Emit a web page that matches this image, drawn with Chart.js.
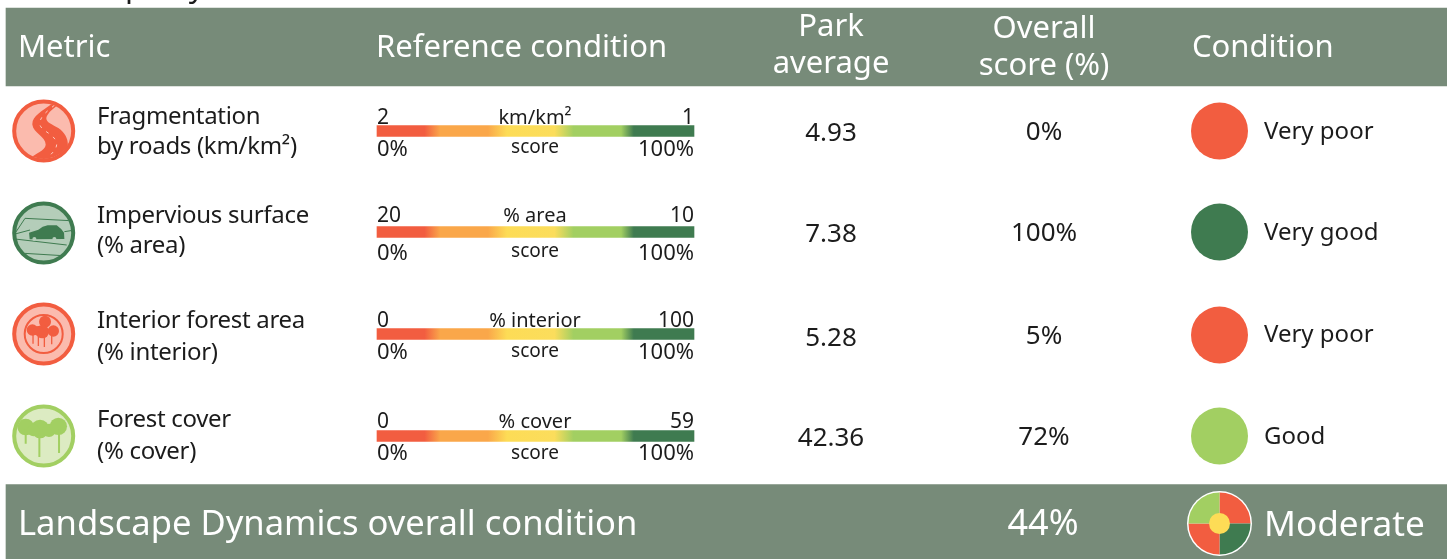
<!DOCTYPE html>
<html>
<head>
<meta charset="utf-8">
<title>Landscape Dynamics</title>
<script src="https://cdn.jsdelivr.net/npm/chart.js@4"></script>
<style>
    body { margin: 0; background: #fff; overflow: hidden; }
    #wrap { position: relative; width: 1447px; height: 559px; }
    #table_chart { position: absolute; left: 0; top: 0; }
    #overall_pie { position: absolute; left: 1184px; top: 488px; }
</style>
</head>
<body>
<div id="wrap">
    <canvas id="table_chart" width="1447" height="559"></canvas>
    <canvas id="overall_pie" width="71" height="71"></canvas>
</div>
<script>
// values
const metrics = [["Fragmentation", "by roads (km/km²)"], ["Impervious surface", "(% area)"], ["Interior forest area", "(% interior)"], ["Forest cover", "(% cover)"]]
const refLow = ["2", "20", "0", "0"]
const refHigh = ["1", "10", "100", "59"]
const refUnits = ["km/km²", "% area", "% interior", "% cover"]
const parkAverage = ["4.93", "7.38", "5.28", "42.36"]
const overallScore = [0, 100, 5, 72]
const conditions = ["Very poor", "Very good", "Very poor", "Good"]
const overallValue = 44
const overallCondition = "Moderate"
const pieSlices = [25, 25, 25, 25]

// layout, the axes run in page pixels so this is all plain numbers
const BAND = "#778b79"
const INK = "#1c1c1c"
const FONT = '"Noto Sans"'
const barY = [131, 232, 334, 436]
const iconY = [131, 233, 334, 436]
const circleY = [131, 232, 335, 436]
const nameBase = [124, 223, 328, 427]
const nameGap = [30, 30, 32, 32]
const topBase = [124, 222, 327, 428]
const pctBase = [156, 260, 359, 460]
const scoreBase = [153, 257, 357, 459]
const parkBase = [141, 241.5, 346, 446]
const overallBase = [140, 241, 344, 445]
const condBase = [139, 240, 342, 444]
const headBand = { y: 47, h: 78 }
const footBand = { y: 522, h: 75 }
const scoreBar = { from: 377, to: 694, h: 11 }
const colors = { "Very poor": "#f25d40", "Very good": "#3f7b50", "Good": "#a2cf62", "Moderate": "#fddc56" }

function scoreGradient(context) {
    let chart = context.chart
    let x = chart.scales.x
    // scale is not laid out yet on the first resolve
    if (!x || !isFinite(x.getPixelForValue(scoreBar.from))) return "#fddc56"
    let g = chart.ctx.createLinearGradient(x.getPixelForValue(scoreBar.from), 0, x.getPixelForValue(scoreBar.to), 0)
    g.addColorStop(0, "#f25d40")
    g.addColorStop(0.15, "#f25d40")
    g.addColorStop(0.2, "#faa74a")
    g.addColorStop(0.35, "#faa74a")
    g.addColorStop(0.41, "#fddc56")
    g.addColorStop(0.56, "#fbdd5c")
    g.addColorStop(0.62, "#a2cf62")
    g.addColorStop(0.77, "#a2cf62")
    g.addColorStop(0.81, "#3f7b50")
    g.addColorStop(1, "#3f7b50")
    return g
}

function put(ctx, str, x, y, size, align, color, spacing) {
    ctx.font = size + "px " + FONT
    ctx.letterSpacing = (spacing || 0) + "px"
    ctx.textAlign = align || "left"
    ctx.fillStyle = color || INK
    ctx.textBaseline = "alphabetic"
    ctx.fillText(str, x, y)
    ctx.letterSpacing = "0px"
}

// the icons are drawn at 3x in a box around their centre
function iconBase(ctx, cx, cy, ring, fill) {
    ctx.save()
    ctx.translate(cx, cy)
    ctx.beginPath()
    ctx.arc(0, 0, 29.5, 0, Math.PI * 2)
    ctx.fillStyle = fill
    ctx.fill()
    ctx.lineWidth = 4
    ctx.strokeStyle = ring
    ctx.stroke()
    ctx.save()
    ctx.beginPath()
    ctx.arc(0, 0, 28, 0, Math.PI * 2)
    ctx.clip()
    ctx.scale(1 / 3, 1 / 3)
    ctx.translate(-116, -109)
    ctx.fillStyle = ring
    ctx.strokeStyle = ring
}

function iconEnd(ctx) {
    ctx.restore()
    ctx.restore()
}

function roadIcon(ctx, cx, cy) {
    iconBase(ctx, cx, cy, "#f25d40", "#fbbbae")
    ctx.beginPath()
    ctx.moveTo(140, 28)
    ctx.bezierCurveTo(110, 50, 80, 65, 82, 90)
    ctx.bezierCurveTo(85, 115, 122, 125, 122, 150)
    ctx.bezierCurveTo(120, 170, 90, 175, 70, 195)
    ctx.lineTo(100, 215)
    ctx.lineTo(175, 190)
    ctx.bezierCurveTo(195, 160, 195, 125, 160, 100)
    ctx.bezierCurveTo(135, 85, 115, 80, 128, 60)
    ctx.bezierCurveTo(135, 48, 150, 40, 160, 28)
    ctx.closePath()
    ctx.fill()
    ctx.beginPath()
    ctx.moveTo(148, 32)
    ctx.bezierCurveTo(125, 50, 100, 70, 105, 92)
    ctx.bezierCurveTo(112, 110, 150, 120, 155, 145)
    ctx.bezierCurveTo(156, 165, 140, 175, 128, 190)
    ctx.setLineDash([9, 17])
    ctx.strokeStyle = "#fde3dc"
    ctx.lineWidth = 2.5
    ctx.stroke()
    iconEnd(ctx)
}

function carIcon(ctx, cx, cy) {
    iconBase(ctx, cx, cy, "#3f7b50", "#b4cdb9")
    ctx.lineWidth = 3
    ctx.beginPath()
    ctx.moveTo(30, 110)
    ctx.lineTo(60, 65)
    ctx.lineTo(195, 72)
    ctx.moveTo(30, 112)
    ctx.lineTo(75, 100)
    ctx.moveTo(178, 105)
    ctx.lineTo(210, 100)
    ctx.moveTo(30, 127)
    ctx.lineTo(185, 145)
    ctx.moveTo(58, 170)
    ctx.lineTo(190, 178)
    ctx.stroke()
    ctx.beginPath()
    ctx.moveTo(74, 128)
    ctx.lineTo(72, 108)
    ctx.lineTo(100, 99)
    ctx.quadraticCurveTo(112, 88, 128, 86)
    ctx.lineTo(155, 86)
    ctx.quadraticCurveTo(168, 95, 177, 108)
    ctx.lineTo(178, 127)
    ctx.closePath()
    ctx.fill()
    ctx.fillStyle = "#b4cdb9"
    ctx.beginPath()
    ctx.arc(88, 127, 6, 0, Math.PI * 2)
    ctx.arc(148, 127, 6, 0, Math.PI * 2)
    ctx.fill()
    iconEnd(ctx)
}

function tree(ctx, blobs, trunks, width) {
    blobs.forEach((b) => {
        ctx.beginPath()
        ctx.arc(b[0], b[1], b[2], 0, Math.PI * 2)
        ctx.fill()
    })
    ctx.lineWidth = width
    trunks.forEach((t) => {
        ctx.beginPath()
        ctx.moveTo(t[0], t[1])
        ctx.lineTo(t[0], t[2])
        ctx.stroke()
    })
}

function interiorIcon(ctx, cx, cy) {
    iconBase(ctx, cx, cy, "#f25d40", "#fbbbae")
    ctx.lineWidth = 6
    ctx.beginPath()
    ctx.arc(116, 109, 57, 0, Math.PI * 2)
    ctx.stroke()
    tree(ctx, [[120, 72, 18], [82, 97, 17], [112, 102, 20], [145, 100, 17], [100, 100, 15]],
        [[84, 100, 138], [100, 110, 145], [140, 100, 140], [118, 110, 148]], 4)
    iconEnd(ctx)
}

function forestIcon(ctx, cx, cy) {
    iconBase(ctx, cx, cy, "#a2cf62", "#dcebc2")
    tree(ctx, [[62, 82, 25], [105, 88, 28], [85, 92, 18], [132, 92, 20], [160, 80, 26]],
        [[62, 90, 132], [103, 100, 172], [162, 90, 160]], 6)
    iconEnd(ctx)
}

const drawIcons = [roadIcon, carIcon, interiorIcon, forestIcon]

const tableText = {
    id: "tableText",
    afterDraw(chart) {
        let ctx = chart.ctx
        let px = (v) => chart.scales.x.getPixelForValue(v)
        let py = (v) => chart.scales.y.getPixelForValue(v)
        ctx.save()

        // title of the section, only the descenders are left on the page
        put(ctx, "Landscape dynamics", px(6), py(-3), 31)

        // header band
        put(ctx, "Metric", px(18), py(57), 31, "left", "#fff")
        put(ctx, "Reference condition", px(376), py(57), 31, "left", "#fff")
        put(ctx, "Park", px(831), py(36), 31, "center", "#fff")
        put(ctx, "average", px(831), py(73), 31, "center", "#fff")
        put(ctx, "Overall", px(1044), py(38), 31, "center", "#fff")
        put(ctx, "score (%)", px(1044), py(75), 31, "center", "#fff")
        put(ctx, "Condition", px(1192), py(57), 31, "left", "#fff")

        metrics.forEach((lines, i) => {
            drawIcons[i](ctx, px(43.7), py(iconY[i]))
            put(ctx, lines[0], px(97), py(nameBase[i]), 24, "left", INK, -0.3)
            put(ctx, lines[1], px(97), py(nameBase[i] + nameGap[i]), 24, "left", INK, -0.3)

            put(ctx, refLow[i], px(scoreBar.from), py(topBase[i]), 21)
            put(ctx, refUnits[i], px(535), py(topBase[i]), 20, "center")
            put(ctx, refHigh[i], px(scoreBar.to), py(topBase[i]), 21, "right")
            put(ctx, "0%", px(scoreBar.from), py(pctBase[i]), 22)
            put(ctx, "score", px(535), py(scoreBase[i]), 19, "center")
            put(ctx, "100%", px(scoreBar.to), py(pctBase[i]), 22, "right")

            put(ctx, parkAverage[i], px(831), py(parkBase[i]), 26, "center")
            put(ctx, overallScore[i] + "%", px(1044), py(overallBase[i]), 26, "center")
            put(ctx, conditions[i], px(1264), py(condBase[i]), 24)
        })

        // footer band
        put(ctx, "Landscape Dynamics overall condition", px(18), py(535), 34.6, "left", "#fff")
        put(ctx, overallValue + "%", px(1043), py(535), 36, "center", "#fff")
        put(ctx, overallCondition, px(1264), py(536), 35.2, "left", "#fff")
        ctx.restore()
    }
}

new Chart(document.getElementById("table_chart").getContext("2d"), {
    type: "bar",
    data: {
        datasets: [
            {
                label: "head band",
                data: [{ x: [6, 1447], y: headBand.y }],
                backgroundColor: BAND,
                barThickness: headBand.h,
                order: 4
            },
            {
                label: "foot band",
                data: [{ x: [6, 1447], y: footBand.y }],
                backgroundColor: BAND,
                barThickness: footBand.h,
                order: 3
            },
            {
                label: "score bars",
                data: barY.map((y) => ({ x: [scoreBar.from, scoreBar.to], y: y })),
                backgroundColor: scoreGradient,
                barThickness: scoreBar.h,
                order: 2
            },
            {
                type: "scatter",
                label: "condition",
                data: circleY.map((y) => ({ x: 1219.5, y: y })),
                showLine: false,
                pointRadius: 28.5,
                pointBackgroundColor: conditions.map((c) => colors[c]),
                pointBorderWidth: 0,
                order: 1
            }
        ]
    },
    options: {
        indexAxis: "y",
        responsive: false,
        animation: false,
        grouped: false,
        layout: { padding: 0, autoPadding: false },
        plugins: { legend: { display: false }, tooltip: { enabled: false } },
        scales: {
            x: { type: "linear", min: 0, max: 1447, display: false },
            y: { type: "linear", min: 0, max: 559, reverse: true, offset: false, display: false }
        }
    },
    plugins: [tableText]
})

const pieCentre = {
    id: "pieCentre",
    beforeDatasetsDraw(chart) {
        let ctx = chart.ctx
        let c = chart.getDatasetMeta(0).data[0]
        ctx.save()
        ctx.beginPath()
        ctx.arc(c.x, c.y, 32.5, 0, Math.PI * 2)
        ctx.fillStyle = "#fff"
        ctx.fill()
        ctx.restore()
    },
    afterDatasetsDraw(chart) {
        let ctx = chart.ctx
        let c = chart.getDatasetMeta(0).data[0]
        ctx.save()
        ctx.beginPath()
        ctx.arc(c.x, c.y, 10.5, 0, Math.PI * 2)
        ctx.fillStyle = colors[overallCondition]
        ctx.fill()
        ctx.restore()
    }
}

// one slice per metric, clockwise from the top right
new Chart(document.getElementById("overall_pie").getContext("2d"), {
    type: "pie",
    data: {
        labels: metrics.map((m) => m[0]),
        datasets: [{
            data: pieSlices,
            backgroundColor: conditions.map((c) => colors[c]),
            borderWidth: 0
        }]
    },
    options: {
        responsive: false,
        animation: false,
        radius: 31,
        plugins: { legend: { display: false }, tooltip: { enabled: false } }
    },
    plugins: [pieCentre]
})
</script>
</body>
</html>
